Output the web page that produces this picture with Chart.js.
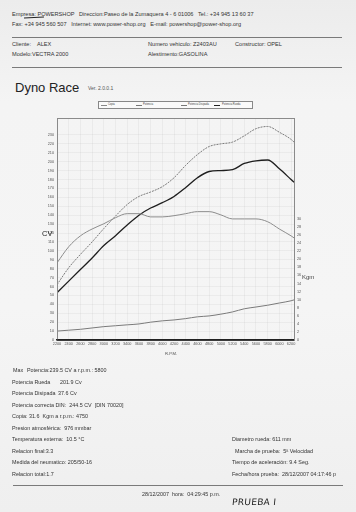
<!DOCTYPE html>
<html>
<head>
<meta charset="utf-8">
<script src="https://cdn.jsdelivr.net/npm/chart.js@4.4.1/dist/chart.umd.min.js"></script>
<style>
  html,body{margin:0;padding:0;}
  body{width:356px;height:512px;position:relative;overflow:hidden;
       background:linear-gradient(180deg,#ececec 0%,#f4f4f4 20%,#f5f5f5 60%,#efefef 100%);
       font-family:"Liberation Sans",Arial,sans-serif;color:#333;}
  .t{position:absolute;white-space:nowrap;line-height:1;font-size:5.6px;}
  .f{position:absolute;white-space:nowrap;line-height:1;font-size:5.4px;}
  .hr{position:absolute;height:0;border-top:1px solid #7a7a7a;}
  #c{position:absolute;left:0;top:0;}
  #legend{position:absolute;left:98px;top:101px;width:153px;height:6px;border:1px solid #888;background:#fafafa;}
  #legend span{position:absolute;top:1.5px;font-size:2.6px;line-height:1;color:#444;white-space:nowrap;}
  #legend i{position:absolute;top:3px;height:0;width:6px;}
</style>
</head>
<body>
<div class="t" style="left:12px;top:11.5px">Empresa: POWERSHOP &nbsp; Direccion:Paseo de la Zumaquera 4 - 6 01006 &nbsp; Tel.: +34 945 13 60 37</div>
<div style="position:absolute;left:24px;top:17px;width:20px;height:0;border-top:1.2px solid #222;transform:rotate(-3deg)"></div>
<div class="t" style="left:12px;top:21.5px">Fax: +34 945 560 507 &nbsp; Internet: www.power-shop.org &nbsp; E-mail: powershop@power-shop.org</div>
<div class="hr" style="left:12px;top:37px;width:330px"></div>
<div class="t" style="left:12px;top:41.5px">Cliente:</div>
<div class="t" style="left:37px;top:41.5px">ALEX</div>
<div class="t" style="left:148px;top:41.5px">Numero vehiculo: Z2403AU</div>
<div class="t" style="left:235px;top:41.5px">Constructor: OPEL</div>
<div class="t" style="left:12px;top:51.5px">Modelo:VECTRA 2000</div>
<div class="t" style="left:148px;top:51.5px">Alestimento:GASOLINA</div>
<div class="hr" style="left:12px;top:67px;width:330px"></div>
<div class="t" style="left:15px;top:81px;font-size:13px;color:#222">Dyno Race</div>
<div class="t" style="left:88px;top:85.5px;font-size:5px;color:#555">Ver. 2.0.0.1</div>

<div id="legend">
  <i style="left:2px;border-top:1px solid #888"></i><span style="left:9px">Copia</span>
  <i style="left:37px;border-top:1px dashed #777"></i><span style="left:44px">Potencia</span>
  <i style="left:82px;border-top:1px solid #777"></i><span style="left:89px">Potencia Disipada</span>
  <i style="left:115px;border-top:1px solid #222"></i><span style="left:123px">Potencia Rueda</span>
</div>

<canvas id="c" width="356" height="512"></canvas>

<div class="t" style="left:42px;top:230px;font-size:7.5px;color:#222">CV</div>
<div class="t" style="left:302px;top:274px;font-size:6px;color:#444">Kgm</div>
<div class="t" style="left:165px;top:352px;font-size:4.2px;color:#555">R.P.M.</div>

<div class="f" style="left:13px;top:368px">Max</div>
<div class="f" style="left:27px;top:368px">Potencia:239.5 CV a r.p.m.: 5800</div>
<div class="f" style="left:12px;top:379.5px">Potencia Rueda</div>
<div class="f" style="left:60px;top:379.5px">201.9 Cv</div>
<div class="f" style="left:12px;top:391px">Potencia Disipada</div>
<div class="f" style="left:58px;top:391px">37.6 Cv</div>
<div class="f" style="left:12px;top:402.5px">Potencia correcta DIN: &nbsp;244.5 CV &nbsp;[DIN 70020]</div>
<div class="f" style="left:12px;top:414px">Copia: 31.6 &nbsp;Kgm a r.p.m.: 4750</div>
<div class="f" style="left:12px;top:425.5px">Presion atmosférica: &nbsp;976 mmbar</div>
<div class="f" style="left:12px;top:437px">Temperatura externa: &nbsp;10.5 °C</div>
<div class="f" style="left:12px;top:448.5px">Relacion final:3.3</div>
<div class="f" style="left:12px;top:460px">Medida del neumatico: 205/50-16</div>
<div class="f" style="left:12px;top:471.5px">Relacion total:1.7</div>
<div class="f" style="left:232px;top:437px">Diametro rueda: 611 mm</div>
<div class="f" style="left:235px;top:448.5px">Marcha de prueba: &nbsp;5ª Velocidad</div>
<div class="f" style="left:232px;top:460px">Tiempo de aceleración: 9.4 Seg.</div>
<div class="f" style="left:232px;top:471.5px">Fecha/hora prueba: &nbsp;28/12/2007 04:17:46 p</div>
<div class="hr" style="left:13px;top:485px;width:330px"></div>
<div class="f" style="left:142px;top:492px">28/12/2007 &nbsp;hora: &nbsp;04:29:45 p.m.</div>
<div class="t" style="left:232px;top:498px;font-size:9px;color:#222;font-family:'DejaVu Sans';letter-spacing:0.3px;transform:skewX(-6deg)">PRUEBA I</div>

<script>
// ---- data ----
const rpm       = [2200,2400,2600,2800,3000,3200,3400,3600,3800,4000,4200,4400,4600,4800,5000,5200,5400,5600,5800,6000,6200,6250];
const potencia  = [62,81,96,110,125,139,152,161,166,172,182,196,208,217,220,222,229,237,239.5,233,225,222];
const rueda     = [53,66,79,92,106,117,129,140,148,154,161,171,182,189,190,191,198,201,201.9,192,180,177];
const disipada  = [10,11,12,13.5,15,16,17,18,20,21.5,22.5,24,26,27,29,31.5,35,37,39,41.5,44,45];
const copia     = [19.1,23.1,25.8,27.5,28.8,30.3,31.3,31.3,30.5,30.5,30.8,31.3,31.8,31.8,31.0,30.0,30.0,30.0,29.3,27.5,25.8,25.3];
const rpmTicks  = [2200,2400,2600,2800,3000,3200,3400,3600,3800,4000,4200,4400,4600,4800,5000,5200,5400,5600,5800,6000,6200];
const cvTicks   = [0,10,20,30,40,50,60,70,80,90,100,110,120,130,140,150,160,170,180,190,200,210,220,230];
const kgmTicks  = [0,2,4,6,8,10,12,14,16,18,20,22,24,26,28,30];
const seriesNames = ['Copia','Potencia','Potencia Disipada','Potencia Rueda'];

const pts = arr => rpm.map((r,i)=>({x:r,y:arr[i]}));
const tickFont = {family:'Liberation Sans', size:3.8};

const boxPlugin = {
  id:'box',
  afterDraw(chart){
    const {ctx, chartArea:a} = chart;
    ctx.save();
    ctx.strokeStyle = '#8a8a8a'; ctx.lineWidth = 1;
    ctx.strokeRect(a.left+0.5, a.top+0.5, a.right-a.left, a.bottom-a.top);
    ctx.strokeStyle = '#222'; ctx.lineWidth = 1.5;
    ctx.beginPath(); ctx.moveTo(a.left, a.bottom); ctx.lineTo(a.right, a.bottom); ctx.stroke();
    ctx.restore();
  }
};

new Chart(document.getElementById('c'), {
  type:'line',
  data:{
    datasets:[
      {label:seriesNames[0], data:pts(copia), yAxisID:'y1', borderColor:'#8c8c8c', borderWidth:1},
      {label:seriesNames[1], data:pts(potencia), yAxisID:'y', borderColor:'#7a7a7a', borderWidth:1, borderDash:[2,1]},
      {label:seriesNames[2], data:pts(disipada), yAxisID:'y', borderColor:'#7a7a7a', borderWidth:1},
      {label:seriesNames[3], data:pts(rueda), yAxisID:'y', borderColor:'#1e1e1e', borderWidth:1.3}
    ]
  },
  options:{
    responsive:false, animation:false, devicePixelRatio:1,
    layout:{padding:{left:40,right:46,top:118,bottom:160}},
    elements:{point:{radius:0}, line:{cubicInterpolationMode:'monotone'}},
    plugins:{legend:{display:false}, tooltip:{enabled:false}},
    scales:{
      x:{type:'linear', min:2200, max:6250,
         afterBuildTicks:s=>{s.ticks = rpmTicks.map(v=>({value:v}));},
         afterFit:s=>{s.height = 12;},
         ticks:{font:tickFont, color:'#555', padding:2, maxRotation:0, autoSkip:false, callback:v=>String(v)},
         grid:{color:'rgba(0,0,0,0.04)', drawTicks:false},
         border:{color:'#222', width:1.5}},
      y:{position:'left', min:0, max:249,
         afterBuildTicks:s=>{s.ticks = cvTicks.map(v=>({value:v}));},
         afterFit:s=>{s.width = 17;},
         ticks:{font:tickFont, color:'#555', padding:3, autoSkip:false},
         grid:{color:'rgba(0,0,0,0.04)', drawTicks:false},
         border:{color:'#8a8a8a'}},
      y1:{position:'right', min:0, max:55,
         afterBuildTicks:s=>{s.ticks = kgmTicks.map(v=>({value:v}));},
         afterFit:s=>{s.width = 16;},
         ticks:{font:tickFont, color:'#555', padding:3, autoSkip:false},
         grid:{display:false, drawTicks:false},
         border:{color:'#8a8a8a'}}
    }
  },
  plugins:[boxPlugin]
});
</script>
</body>
</html>
